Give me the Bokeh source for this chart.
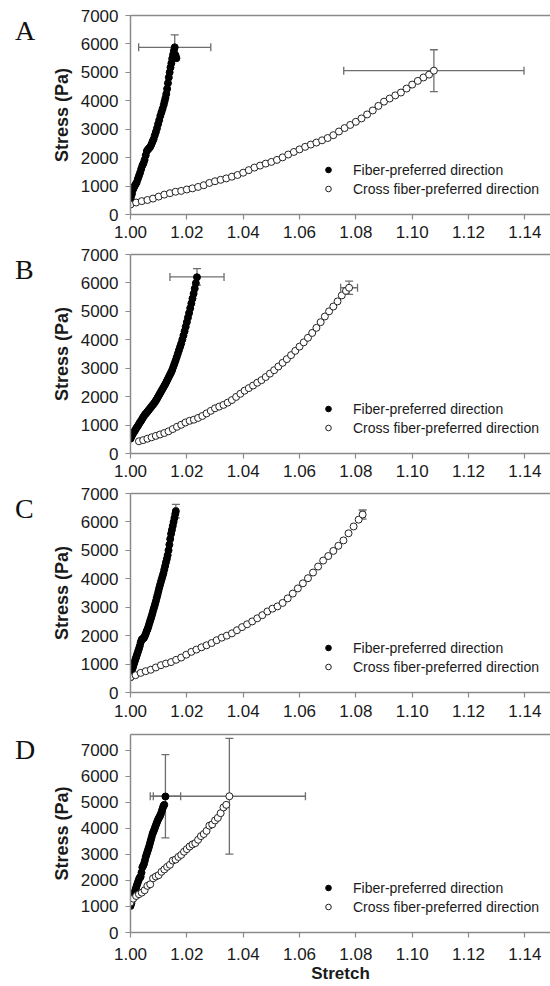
from bokeh.plotting import figure
from bokeh.models import (Range1d, FixedTicker, PrintfTickFormatter, LinearAxis, Whisker,
                          TeeHead, ColumnDataSource, Legend, LegendItem, Div)
from bokeh.layouts import column, row
from bokeh.embed import file_html
from bokeh.resources import INLINE

# ---------------- data ----------------
PANELS = ["A", "B", "C", "D"]
X_TICKS = [1.00, 1.02, 1.04, 1.06, 1.08, 1.10, 1.12, 1.14]
Y_TICKS = [0, 1000, 2000, 3000, 4000, 5000, 6000, 7000]
Y_MAX = [7000, 7000, 7000, 7600]
X_MIN, X_MAX = 1.00, 1.1491
SERIES_NAMES = ["Fiber-preferred direction", "Cross fiber-preferred direction"]
X_LABEL = "Stretch"
Y_LABEL = "Stress (Pa)"

FIBER_A_X = [1.0000, 1.0002, 1.0005, 1.0008, 1.0011, 1.0014, 1.0018, 1.0022, 1.0026, 1.0030,
             1.0034, 1.0038, 1.0042, 1.0046, 1.0050, 1.0054, 1.0058, 1.0062, 1.0066, 1.0070,
             1.0074, 1.0078, 1.0082, 1.0086, 1.0090, 1.0094, 1.0098, 1.0102, 1.0106, 1.0110,
             1.0114, 1.0118, 1.0121, 1.0124, 1.0127, 1.0130, 1.0133, 1.0136, 1.0139, 1.0142,
             1.0145, 1.0148, 1.0151, 1.0154, 1.0157, 1.0163, 1.0160]
FIBER_A_Y = [560, 640, 720, 860, 930, 990, 1060, 1130, 1250, 1360,
             1470, 1600, 1720, 1800, 1920, 2080, 2230, 2290, 2330, 2380,
             2460, 2560, 2650, 2780, 2900, 3030, 3180, 3320, 3470, 3600,
             3720, 3860, 3980, 4100, 4240, 4420, 4620, 4820, 5000, 5170,
             5320, 5480, 5620, 5760, 5880, 5500, 5600]

CROSS_A_X = [1.0000, 1.0020, 1.0040, 1.0060, 1.0080, 1.0100, 1.0120, 1.0140, 1.0160, 1.0180,
             1.0200, 1.0220, 1.0240, 1.0260, 1.0280, 1.0300, 1.0320, 1.0340, 1.0360, 1.0380,
             1.0400, 1.0420, 1.0440, 1.0460, 1.0480, 1.0500, 1.0520, 1.0540, 1.0560, 1.0580,
             1.0600, 1.0620, 1.0640, 1.0660, 1.0680, 1.0700, 1.0720, 1.0740, 1.0760, 1.0780,
             1.0800, 1.0820, 1.0840, 1.0860, 1.0880, 1.0900, 1.0920, 1.0940, 1.0960, 1.0980,
             1.1000, 1.1020, 1.1040, 1.1060, 1.1077]
CROSS_A_Y = [350, 420, 470, 510, 560, 630, 700, 750, 800, 830,
             880, 920, 970, 1030, 1110, 1170, 1220, 1270, 1330, 1390,
             1470, 1560, 1650, 1720, 1790, 1850, 1920, 2010, 2110, 2200,
             2290, 2380, 2460, 2530, 2610, 2690, 2790, 2920, 3040, 3150,
             3260, 3380, 3520, 3660, 3820, 3970, 4080, 4190, 4290, 4430,
             4570, 4700, 4820, 4920, 5060]

FIBER_B_X = [1.0000, 1.0004, 1.0008, 1.0012, 1.0016, 1.0020, 1.0024, 1.0028, 1.0032, 1.0036,
             1.0040, 1.0044, 1.0048, 1.0052, 1.0056, 1.0060, 1.0064, 1.0068, 1.0072, 1.0076,
             1.0080, 1.0084, 1.0088, 1.0092, 1.0096, 1.0100, 1.0104, 1.0108, 1.0112, 1.0116,
             1.0120, 1.0124, 1.0128, 1.0132, 1.0136, 1.0140, 1.0144, 1.0148, 1.0152, 1.0156,
             1.0160, 1.0164, 1.0168, 1.0172, 1.0176, 1.0180, 1.0184, 1.0188, 1.0192, 1.0196,
             1.0200, 1.0204, 1.0208, 1.0212, 1.0216, 1.0220, 1.0224, 1.0228, 1.0232, 1.0236]
FIBER_B_Y = [520, 600, 680, 750, 810, 880, 940, 1000, 1070, 1130,
             1190, 1260, 1320, 1380, 1420, 1470, 1520, 1570, 1620, 1670,
             1720, 1770, 1830, 1890, 1960, 2030, 2100, 2170, 2240, 2310,
             2380, 2450, 2530, 2610, 2690, 2770, 2850, 2940, 3050, 3160,
             3270, 3390, 3510, 3630, 3750, 3870, 4010, 4150, 4300, 4460,
             4620, 4780, 4940, 5110, 5280, 5450, 5620, 5800, 5990, 6200]

CROSS_B_X = [1.0030, 1.0045, 1.0060, 1.0075, 1.0090, 1.0105, 1.0120, 1.0135, 1.0150, 1.0165,
             1.0180, 1.0195, 1.0210, 1.0225, 1.0240, 1.0255, 1.0270, 1.0285, 1.0300, 1.0315,
             1.0330, 1.0345, 1.0360, 1.0375, 1.0390, 1.0405, 1.0420, 1.0435, 1.0450, 1.0465,
             1.0480, 1.0495, 1.0510, 1.0525, 1.0540, 1.0555, 1.0570, 1.0585, 1.0600, 1.0615,
             1.0630, 1.0645, 1.0660, 1.0675, 1.0690, 1.0705, 1.0720, 1.0735, 1.0750, 1.0765,
             1.0776]
CROSS_B_Y = [430, 470, 520, 570, 620, 670, 720, 780, 860, 940,
             1010, 1090, 1150, 1190, 1250, 1320, 1410, 1500, 1590, 1650,
             1710, 1790, 1880, 1990, 2100, 2210, 2300, 2390, 2490, 2580,
             2690, 2810, 2930, 3060, 3190, 3320, 3460, 3610, 3760, 3910,
             4070, 4240, 4420, 4620, 4820, 5000, 5170, 5350, 5560, 5720,
             5830]

FIBER_C_X = [1.0000, 1.0003, 1.0006, 1.0009, 1.0012, 1.0015, 1.0018, 1.0021, 1.0024, 1.0027,
             1.0030, 1.0033, 1.0036, 1.0039, 1.0042, 1.0045, 1.0048, 1.0051, 1.0054, 1.0057,
             1.0060, 1.0063, 1.0066, 1.0069, 1.0072, 1.0075, 1.0078, 1.0081, 1.0084, 1.0087,
             1.0090, 1.0093, 1.0096, 1.0099, 1.0102, 1.0105, 1.0108, 1.0111, 1.0114, 1.0117,
             1.0120, 1.0123, 1.0126, 1.0129, 1.0132, 1.0135, 1.0138, 1.0141, 1.0144, 1.0147,
             1.0150, 1.0153, 1.0156, 1.0159, 1.0161]
FIBER_C_Y = [540, 680, 820, 900, 1000, 1090, 1180, 1270, 1360, 1450,
             1540, 1640, 1760, 1850, 1880, 1900, 1930, 1990, 2060, 2150,
             2220, 2300, 2400, 2500, 2590, 2690, 2790, 2900, 3000, 3100,
             3210, 3330, 3440, 3560, 3680, 3790, 3900, 4000, 4100, 4200,
             4330, 4450, 4580, 4700, 4830, 5000, 5200, 5400, 5580, 5720,
             5860, 6000, 6140, 6280, 6380]

CROSS_C_X = [1.0000, 1.0018, 1.0036, 1.0054, 1.0072, 1.0090, 1.0108, 1.0126, 1.0144, 1.0162,
             1.0180, 1.0198, 1.0216, 1.0234, 1.0252, 1.0270, 1.0288, 1.0306, 1.0324, 1.0342,
             1.0360, 1.0378, 1.0396, 1.0414, 1.0432, 1.0450, 1.0468, 1.0486, 1.0504, 1.0522,
             1.0540, 1.0558, 1.0576, 1.0594, 1.0612, 1.0630, 1.0648, 1.0666, 1.0684, 1.0702,
             1.0720, 1.0738, 1.0756, 1.0774, 1.0792, 1.0810, 1.0824]
CROSS_C_Y = [540, 610, 690, 750, 800, 880, 960, 1020, 1070, 1150,
             1230, 1330, 1430, 1510, 1590, 1660, 1740, 1840, 1930, 2000,
             2080, 2190, 2300, 2400, 2500, 2610, 2720, 2850, 2950, 3030,
             3150, 3310, 3480, 3660, 3840, 4020, 4220, 4430, 4640, 4800,
             4980, 5160, 5350, 5600, 5840, 6080, 6260]

FIBER_D_X = [1.0000, 1.0003, 1.0006, 1.0009, 1.0012, 1.0015, 1.0018, 1.0021, 1.0024, 1.0027,
             1.0030, 1.0033, 1.0036, 1.0039, 1.0042, 1.0045, 1.0048, 1.0051, 1.0054, 1.0057,
             1.0060, 1.0063, 1.0066, 1.0069, 1.0072, 1.0075, 1.0078, 1.0081, 1.0084, 1.0087,
             1.0090, 1.0093, 1.0096, 1.0099, 1.0102, 1.0105, 1.0108, 1.0111, 1.0114, 1.0117,
             1.0120, 1.0124]
FIBER_D_Y = [1020, 1120, 1260, 1380, 1470, 1560, 1660, 1760, 1860, 1950,
             2040, 2110, 2140, 2300, 2500, 2560, 2640, 2760, 2900, 3000,
             3100, 3200, 3300, 3420, 3540, 3660, 3780, 3860, 3940, 4030,
             4120, 4200, 4290, 4360, 4420, 4480, 4560, 4660, 4760, 4860,
             4900, 5220]

CROSS_D_X = [1.0000, 1.0010, 1.0020, 1.0030, 1.0040, 1.0050, 1.0060, 1.0070, 1.0080, 1.0090,
             1.0100, 1.0110, 1.0120, 1.0130, 1.0140, 1.0150, 1.0160, 1.0170, 1.0180, 1.0190,
             1.0200, 1.0210, 1.0220, 1.0230, 1.0240, 1.0250, 1.0260, 1.0270, 1.0280, 1.0290,
             1.0300, 1.0310, 1.0320, 1.0330, 1.0340, 1.0351]
CROSS_D_Y = [1150, 1300, 1400, 1470, 1530, 1620, 1790, 1850, 2080, 2150,
             2200, 2330, 2420, 2520, 2600, 2760, 2800, 2900, 2980, 3100,
             3200, 3300, 3380, 3430, 3560, 3700, 3780, 3900, 4100, 4150,
             4300, 4400, 4580, 4800, 4900, 5230]

# end-point means with standard deviations (error bars)
FIBER_END_X = [1.0157, 1.0236, 1.0161, 1.0124]
FIBER_END_Y = [5880, 6210, 6380, 5230]
FIBER_XERR = [0.0128, 0.0096, 0.0005, 0.0054]
FIBER_YERR = [440, 290, 240, 1600]
CROSS_END_X = [1.1077, 1.0776, 1.0824, 1.0351]
CROSS_END_Y = [5060, 5830, 6260, 5230]
CROSS_XERR = [0.0320, 0.0030, 0.0008, 0.0270]
CROSS_YERR = [735, 230, 160, 2220]

FIBER_X = [FIBER_A_X, FIBER_B_X, FIBER_C_X, FIBER_D_X]
FIBER_Y = [FIBER_A_Y, FIBER_B_Y, FIBER_C_Y, FIBER_D_Y]
CROSS_X = [CROSS_A_X, CROSS_B_X, CROSS_C_X, CROSS_D_X]
CROSS_Y = [CROSS_A_Y, CROSS_B_Y, CROSS_C_Y, CROSS_D_Y]

# ---------------- style ----------------
FONT = "Liberation Sans"
AXIS_GRAY = "#8a8a8a"
ERR_GRAY = "#6e6e6e"
TEXT = "#1a1a1a"

LETTER_W = 40
FIG_W = 550 - LETTER_W
FRAME_LEFT = 130 - LETTER_W
TOP_BORDER = [15, 10, 10, 10]
FRAME_H = [199, 199, 199, 198]
BOTTOM_BORDER = [30, 30, 32, 54]
X_LABEL_STANDOFF = [6, 6, 7, 10]


def add_errorbars(p, ex, ey, xerr, yerr):
    src = ColumnDataSource(dict(x=[ex], y=[ey],
                                xlo=[ex - xerr], xhi=[ex + xerr],
                                ylo=[ey - yerr], yhi=[ey + yerr]))
    for dim, lo, hi, base in (("width", "xlo", "xhi", "y"), ("height", "ylo", "yhi", "x")):
        w = Whisker(source=src, base=base, lower=lo, upper=hi, dimension=dim,
                    line_color=ERR_GRAY, line_width=1.3,
                    upper_head=TeeHead(size=8, line_color=ERR_GRAY, line_width=1.3),
                    lower_head=TeeHead(size=8, line_color=ERR_GRAY, line_width=1.3))
        p.add_layout(w)


def make_letter(i, h):
    top = TOP_BORDER[i] + 16 - 15
    html = ('<div style="font-family:\'Liberation Serif\',serif;font-size:28px;'
            'line-height:30px;color:#111111;margin:0;padding:0;'
            'padding-top:%dpx;padding-left:15px;">%s</div>' % (top, PANELS[i]))
    return Div(text=html, width=LETTER_W, height=h, margin=(0, 0, 0, 0))


def make_panel(i):
    last = i == len(PANELS) - 1
    h = TOP_BORDER[i] + FRAME_H[i] + BOTTOM_BORDER[i]
    p = figure(width=FIG_W, height=h, x_range=Range1d(X_MIN, X_MAX),
               y_range=Range1d(0, Y_MAX[i]), output_backend="svg", toolbar_location=None,
               min_border_left=FRAME_LEFT, min_border_right=0,
               min_border_top=TOP_BORDER[i], min_border_bottom=BOTTOM_BORDER[i],
               outline_line_color=None, background_fill_color="white")
    p.xgrid.visible = False
    p.ygrid.visible = False

    xa = p.xaxis[0]
    xa.ticker = FixedTicker(ticks=X_TICKS)
    xa.formatter = PrintfTickFormatter(format="%.2f")
    ya = p.yaxis[0]
    ya.ticker = FixedTicker(ticks=Y_TICKS)
    ya.formatter = PrintfTickFormatter(format="%d")
    ya.axis_label = Y_LABEL
    ya.axis_label_standoff = 6
    ya.major_label_standoff = 7
    xa.major_label_standoff = X_LABEL_STANDOFF[i]
    if last:
        xa.axis_label = X_LABEL
        xa.axis_label_standoff = 1
    for ax in (xa, ya):
        ax.axis_line_color = AXIS_GRAY
        ax.axis_line_width = 1.5
        ax.major_tick_line_color = AXIS_GRAY
        ax.major_tick_line_width = 1.2
        ax.major_tick_in = 0
        ax.major_tick_out = 5
        ax.minor_tick_line_color = None
        ax.major_label_text_font = FONT
        ax.major_label_text_font_size = "17px"
        ax.major_label_text_color = TEXT
        ax.axis_label_text_font = FONT
        ax.axis_label_text_font_size = "18px" if ax is ya else "17px"
        ax.axis_label_text_font_style = "bold"
        ax.axis_label_text_color = TEXT

    # top border line of the plot area
    topax = LinearAxis(ticker=FixedTicker(ticks=[]), axis_line_color=AXIS_GRAY,
                       axis_line_width=1.5, major_tick_line_color=None,
                       minor_tick_line_color=None, major_tick_out=0, major_tick_in=0,
                       major_label_text_font_size="0px")
    p.add_layout(topax, "above")

    add_errorbars(p, FIBER_END_X[i], FIBER_END_Y[i], FIBER_XERR[i], FIBER_YERR[i])
    add_errorbars(p, CROSS_END_X[i], CROSS_END_Y[i], CROSS_XERR[i], CROSS_YERR[i])

    rf = p.scatter(FIBER_X[i], FIBER_Y[i], marker="circle", size=7,
                   fill_color="black", line_color="black", line_width=1)
    rc = p.scatter(CROSS_X[i], CROSS_Y[i], marker="circle", size=7,
                   fill_color="white", line_color="#222222", line_width=1)

    legend = Legend(items=[LegendItem(label=SERIES_NAMES[0], renderers=[rf]),
                           LegendItem(label=SERIES_NAMES[1], renderers=[rc])],
                    location=(191, 16), orientation="vertical",
                    glyph_width=14, glyph_height=19, label_height=19,
                    label_standoff=18, spacing=0, padding=0, margin=0,
                    border_line_color=None, background_fill_alpha=0,
                    label_text_font=FONT, label_text_font_size="14px",
                    label_text_color=TEXT)
    p.add_layout(legend)
    return row(make_letter(i, h), p)


layout = column(*[make_panel(i) for i in range(len(PANELS))])
open("out.html", "w").write(file_html(layout, INLINE))
